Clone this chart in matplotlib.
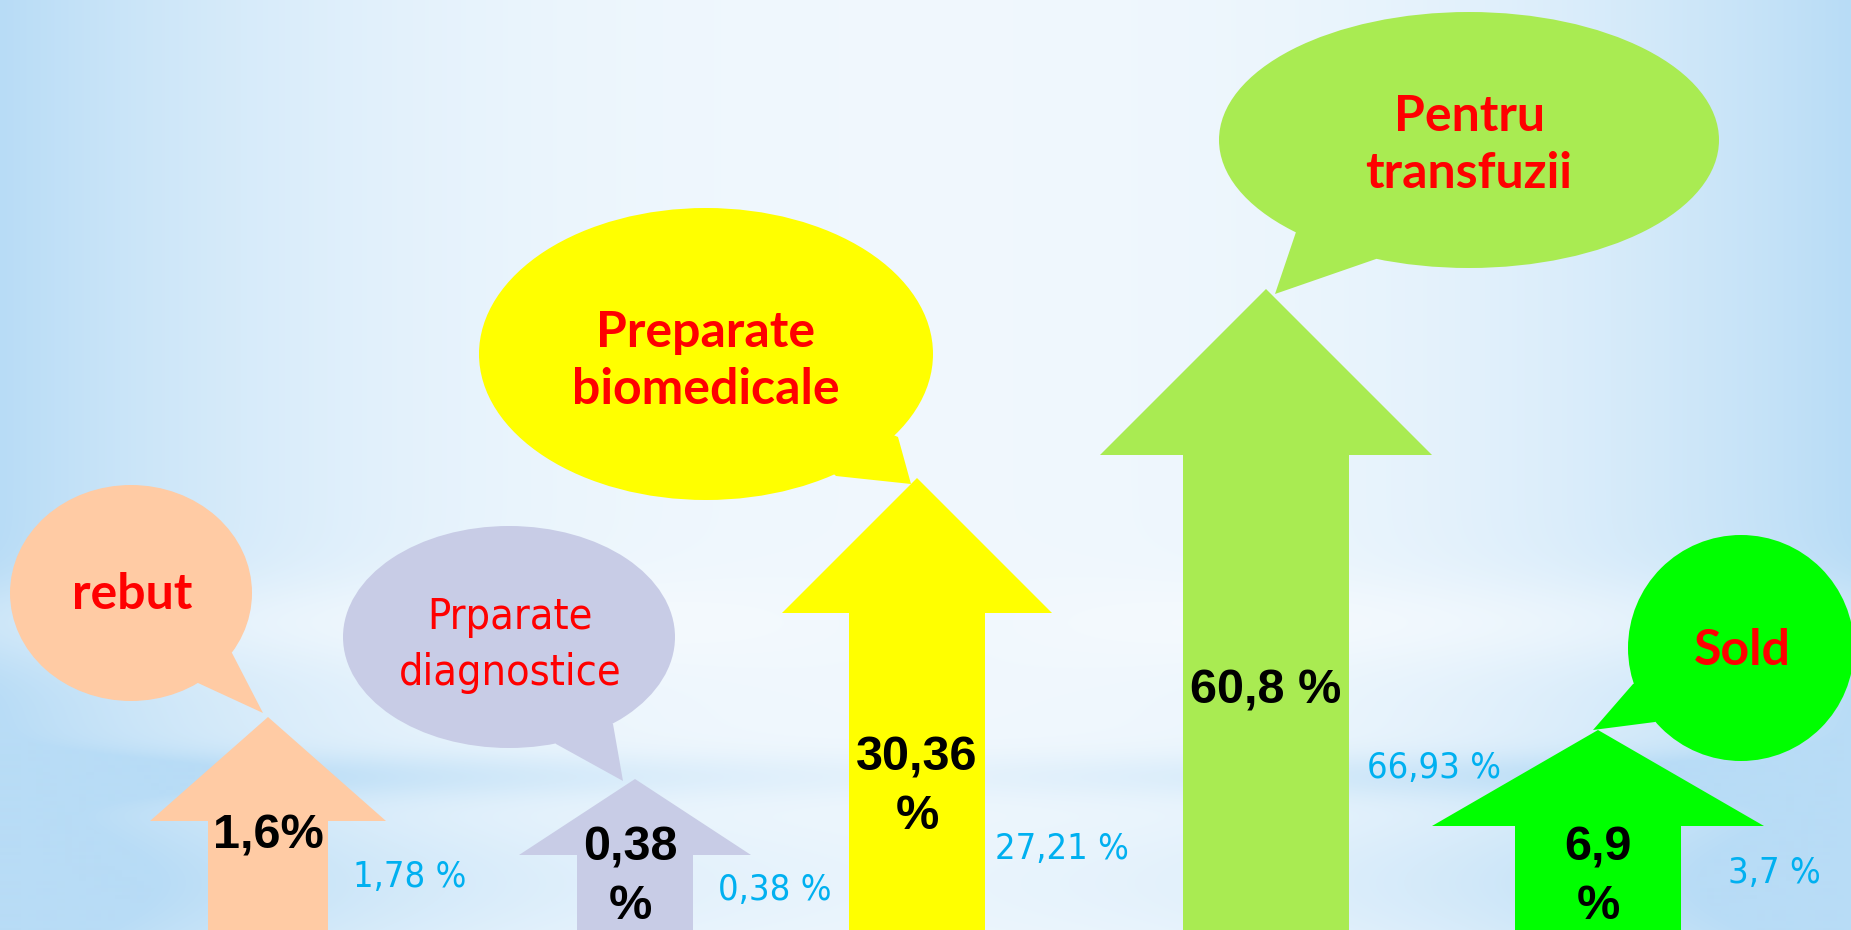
import numpy as np
import matplotlib.pyplot as plt
from matplotlib.patches import Ellipse, Polygon
from matplotlib import font_manager
from matplotlib.font_manager import FontProperties

# data
categories = ['rebut', 'Prparate\ndiagnostice', 'Preparate\nbiomedicale',
              'Pentru\ntransfuzii', 'Sold']
values = [1.6, 0.38, 30.36, 60.8, 6.9]
value_labels = ['1,6%', '0,38\n%', '30,36\n%', '60,8 %', '6,9\n%']
previous = [1.78, 0.38, 27.21, 66.93, 3.7]
previous_labels = ['1,78 %', '0,38 %', '27,21 %', '66,93 %', '3,7 %']
colors = ['#FFCBA4', '#C8CCE6', '#FFFF00', '#A9EB52', '#00FF00']

# layout (pixels, y down)
arrow_x = [268, 635, 917, 1266, 1598]
arrow_tip = [717, 779, 478, 289, 730]
head_base = [821, 855, 613, 455, 826]
head_half = [118, 116, 135, 166, 166]
shaft_half = [60, 58, 68, 83, 83]
bubble_xy = [(131, 593), (509, 637), (706, 354), (1469, 140), (1741, 648)]
bubble_r = [(121, 108), (166, 111), (227, 146), (250, 128), (113, 113)]
tails = [((198, 683), (263, 713), (232, 653)),
         ((556, 744), (623, 781), (613, 724)),
         ((836, 476), (911, 484), (898, 437)),
         ((1296, 232), (1275, 294), (1376, 259)),
         ((1633, 684), (1593, 730), (1655, 722))]
label_xy = [(132, 594), (510, 645), (706, 361), (1469, 145), (1742, 650)]
value_xy = [(268, 836), (630, 877), (917, 787), (1266, 691), (1598, 877)]
prev_xy = [(410, 877), (775, 890), (1062, 849), (1434, 768), (1774, 873)]


def narrow_font(size):
    # look for an installed condensed / narrow regular face
    best = None
    for f in font_manager.fontManager.ttflist:
        low = f.fname.lower()
        if f.weight not in (400, 'normal', 'regular') or f.style != 'normal':
            continue
        if 'narrow' in low or 'condensed' in low:
            if best is None or 'dejavusanscondensed' in low.replace('-', ''):
                best = f.fname
    if best:
        return FontProperties(fname=best, size=size)
    return FontProperties(family='Roboto', size=size * 0.9)


names = {f.name for f in font_manager.fontManager.ttflist}
label_font = 'Lato' if 'Lato' in names else 'DejaVu Sans'
bold_font = 'Liberation Sans' if 'Liberation Sans' in names else 'DejaVu Sans'

W, H = 1851, 930
fig = plt.figure(figsize=(W / 100, H / 100), dpi=100)
ax = fig.add_axes([0, 0, 1, 1])
ax.set_xlim(0, W)
ax.set_ylim(H, 0)
ax.axis('off')

# soft sky background
xx = np.linspace(0, 1, W)[None, :]
yy = np.linspace(0, 1, H)[:, None]
side = np.abs(xx - 0.5) * 2
t = 0.08 + 0.92 * side ** 2.6
t = t + np.exp(-((yy - 0.835) / 0.025) ** 2) * (0.15 + 0.45 * side)
t = t + np.exp(-((yy - 0.95) / 0.08) ** 2) * (0.1 + 0.3 * side)
t = t - np.exp(-((yy - 0.67) / 0.05) ** 2) * 0.35 * side
t = np.clip(t, 0, 1)
light = np.array([245, 250, 254]) / 255
blue = np.array([184, 220, 246]) / 255
bg = light[None, None, :] * (1 - t[..., None]) + blue[None, None, :] * t[..., None]
ax.imshow(bg, extent=(0, W, H, 0), aspect='auto', zorder=0)

for i, cat in enumerate(categories):
    c = colors[i]
    x = arrow_x[i]
    pts = [(x, arrow_tip[i]), (x + head_half[i], head_base[i]),
           (x + shaft_half[i], head_base[i]), (x + shaft_half[i], H),
           (x - shaft_half[i], H), (x - shaft_half[i], head_base[i]),
           (x - head_half[i], head_base[i])]
    ax.add_patch(Polygon(pts, closed=True, fc=c, ec='none', zorder=2))

    cx, cy = bubble_xy[i]
    rx, ry = bubble_r[i]
    ax.add_patch(Ellipse((cx, cy), 2 * rx, 2 * ry, fc=c, ec='none', zorder=3))
    p1, tip, p2 = tails[i]
    ax.add_patch(Polygon([(cx, cy), p1, tip, p2], closed=True, fc=c, ec='none', zorder=3))

    lx, ly = label_xy[i]
    if i == 1:
        ax.text(lx, ly, cat, ha='center', va='center', color='#FF0000',
                fontproperties=narrow_font(31), linespacing=1.4, zorder=5)
    else:
        ax.text(lx, ly, cat, ha='center', va='center', color='#FF0000',
                fontsize=36, family=label_font, fontweight='bold',
                linespacing=1.3, zorder=5)

    vx, vy = value_xy[i]
    ax.text(vx, vy, value_labels[i], ha='center', va='center', color='black',
            fontsize=35, family=bold_font, fontweight='bold',
            linespacing=1.4, zorder=5)

    px, py = prev_xy[i]
    ax.text(px, py, previous_labels[i], ha='center', va='center',
            color='#00B0F0', fontproperties=narrow_font(26), zorder=5)

fig.savefig('out.png', dpi=100)
